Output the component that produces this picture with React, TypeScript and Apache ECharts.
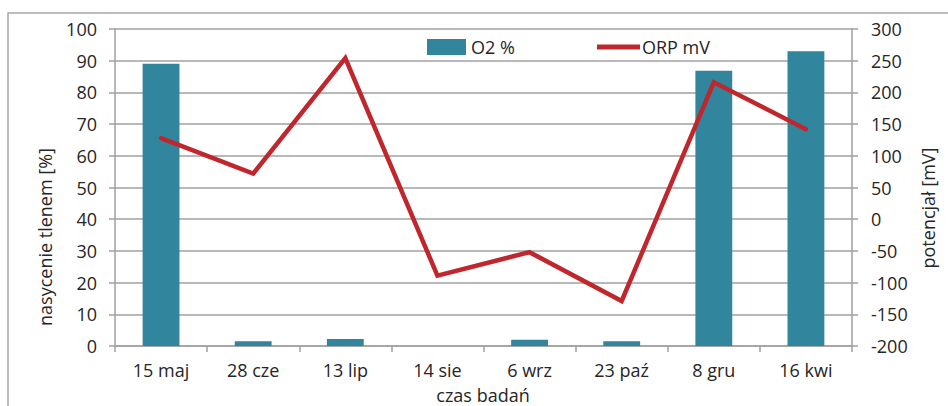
import React, { useEffect, useRef } from "react";
import * as echarts from "echarts";

const categories = ["15 maj", "28 cze", "13 lip", "14 sie", "6 wrz", "23 paź", "8 gru", "16 kwi"];
const o2Values = [89, 1.5, 2.2, 0, 2, 1.5, 86.8, 93];
const orpValues = [128, 72, 254, -89, -52, -129, 216, 142];
const leftTicks = { min: 0, max: 100, interval: 10 };
const rightTicks = { min: -200, max: 300, interval: 50 };

const FONT = "Open Sans";
const TEXT = "#262626";
const GRID = "#a0a0a0";
const FS = 18;

export default function App() {
  const ref = useRef<HTMLDivElement>(null);
  useEffect(() => {
    if (!ref.current) return;
    const chart = echarts.init(ref.current, undefined, { renderer: "svg" });
    chart.setOption({
      animation: false,
      textStyle: { fontFamily: FONT, color: TEXT },
      grid: { left: 115, right: 96, top: 29, bottom: 60, containLabel: false },
      legend: [
        {
          data: [{ name: "O2 %", icon: "rect" }],
          left: 422,
          top: 33,
          itemWidth: 39,
          itemHeight: 16,
          textStyle: { fontFamily: FONT, fontSize: FS, color: TEXT },
        },
        {
          data: [{ name: "ORP mV", icon: "path://M0,0 L43,0 L43,5 L0,5 Z" }],
          left: 592,
          top: 33,
          itemWidth: 43,
          itemHeight: 5,
          textStyle: { fontFamily: FONT, fontSize: FS, color: TEXT, padding: [0, 0, 0, -3] },
        },
      ],
      xAxis: {
        type: "category",
        data: categories,
        boundaryGap: true,
        axisLine: { lineStyle: { color: GRID, width: 1.5 } },
        axisTick: { show: true, length: 6, lineStyle: { color: GRID, width: 1.5 }, alignWithLabel: false },
        axisLabel: { fontFamily: FONT, fontSize: FS, color: TEXT, margin: 15 },
      },
      yAxis: [
        {
          type: "value",
          min: leftTicks.min,
          max: leftTicks.max,
          interval: leftTicks.interval,
          position: "left",
          axisLine: { show: true, lineStyle: { color: GRID, width: 1.5 } },
          axisTick: { show: true, length: 6, lineStyle: { color: GRID, width: 1.5 } },
          axisLabel: { fontFamily: FONT, fontSize: FS, color: TEXT, margin: 18 },
          splitLine: { show: true, lineStyle: { color: GRID, width: 1.5 } },
        },
        {
          type: "value",
          min: rightTicks.min,
          max: rightTicks.max,
          interval: rightTicks.interval,
          position: "right",
          axisLine: { show: true, lineStyle: { color: GRID, width: 1.5 } },
          axisTick: { show: true, length: 6, lineStyle: { color: GRID, width: 1.5 } },
          axisLabel: { fontFamily: FONT, fontSize: FS, color: TEXT, margin: 19 },
          splitLine: { show: false },
        },
      ],
      graphic: [
        {
          type: "rect",
          silent: true,
          shape: { x: 8, y: 13, width: 1200, height: 800 },
          style: { fill: "none", stroke: "#a6a6a6", lineWidth: 1.5 },
          z: -10,
        },
        {
          type: "text",
          x: 45,
          y: 237,
          rotation: Math.PI / 2,
          style: {
            text: "nasycenie tlenem [%]",
            fontFamily: FONT,
            fontSize: FS,
            fill: TEXT,
            align: "center",
            verticalAlign: "middle",
          },
        },
        {
          type: "text",
          x: 928,
          y: 208,
          rotation: Math.PI / 2,
          style: {
            text: "potencjał [mV]",
            fontFamily: FONT,
            fontSize: FS,
            fill: TEXT,
            align: "center",
            verticalAlign: "middle",
          },
        },
        {
          type: "text",
          x: 483,
          y: 395,
          style: {
            text: "czas badań",
            fontFamily: FONT,
            fontSize: FS,
            fill: TEXT,
            align: "center",
            verticalAlign: "middle",
          },
        },
      ],
      series: [
        {
          name: "O2 %",
          type: "bar",
          yAxisIndex: 0,
          data: o2Values,
          barWidth: "40%",
          itemStyle: { color: "#31859c" },
        },
        {
          name: "ORP mV",
          type: "line",
          yAxisIndex: 1,
          data: orpValues,
          symbol: "none",
          showSymbol: false,
          lineStyle: { color: "#c0272d", width: 4.5, cap: "round", join: "miter" },
          itemStyle: { color: "#c0272d" },
        },
      ],
    });
    return () => chart.dispose();
  }, []);
  return (
    <div
      ref={ref}
      style={{ position: "fixed", left: 0, top: 0, width: 948, height: 406, background: "#fff" }}
    />
  );
}
